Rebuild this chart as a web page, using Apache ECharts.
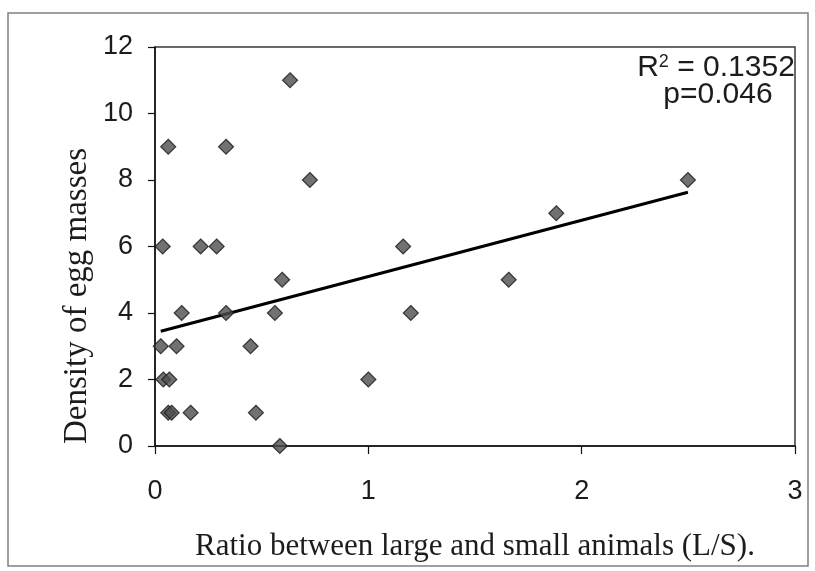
<!DOCTYPE html>
<html>
<head>
<meta charset="utf-8">
<title>Density of egg masses vs L/S ratio</title>
<script src="https://cdn.jsdelivr.net/npm/echarts@6/dist/echarts.min.js"></script>
<style>
  html, body { margin: 0; padding: 0; background: #ffffff; }
  #chart { width: 815px; height: 571px; }
</style>
</head>
<body>
<div id="chart"></div>
<script>
// Ratio of large to small animals (L/S) for each sampling site
const ratioLS = [
  0.633, 0.062, 0.333, 0.726, 2.498, 1.881,
  0.036, 0.214, 0.289, 1.163, 0.596, 1.658,
  0.125, 0.333, 0.562, 1.199, 0.027, 0.101,
  0.448, 0.039, 0.067, 1.000, 0.062, 0.078,
  0.167, 0.473, 0.585
];
// Density of egg masses at the same sites
const eggDensity = [
  11, 9, 9, 8, 8, 7,
  6, 6, 6, 6, 5, 5,
  4, 4, 4, 4, 3, 3,
  3, 2, 2, 2, 1, 1,
  1, 1, 0
];
// Linear trend line end points [x, y]
const trendX = [0.027, 2.498];
const trendY = [3.45, 7.63];

const xTicks = [0, 1, 2, 3];
const yTicks = [0, 2, 4, 6, 8, 10, 12];
const fitText = { r2: '0.1352', p: '0.046' };

const points = ratioLS.map((x, i) => [x, eggDensity[i]]);
const trend = trendX.map((x, i) => [x, trendY[i]]);

const chart = echarts.init(document.getElementById('chart'), null, { renderer: 'canvas' });

const sans = 'Liberation Sans, Arial, sans-serif';
const serif = 'Liberation Serif, Times New Roman, serif';
const ink = '#1c1c1c';
const tickFont = { fontFamily: sans, fontSize: 27, color: ink };

chart.setOption({
  animation: false,
  backgroundColor: '#ffffff',
  grid: {
    left: 155, right: 20, top: 47, bottom: 125,
    show: true, borderColor: '#3a3a3a', borderWidth: 1.5, backgroundColor: 'transparent'
  },
  xAxis: {
    type: 'value',
    min: xTicks[0], max: xTicks[xTicks.length - 1], interval: 1,
    name: 'Ratio between large and small animals (L/S).',
    nameLocation: 'middle', nameGap: 85,
    nameTextStyle: { fontFamily: serif, fontSize: 31, color: ink },
    axisLine: { onZero: false, lineStyle: { color: '#111', width: 1.5 } },
    axisTick: { show: true, inside: false, length: 8, lineStyle: { color: '#111', width: 1.2 } },
    axisLabel: Object.assign({ margin: 32 }, tickFont),
    splitLine: { show: false }
  },
  yAxis: {
    type: 'value',
    min: yTicks[0], max: yTicks[yTicks.length - 1], interval: 2,
    axisLine: { onZero: false, lineStyle: { color: '#111', width: 1.5 } },
    axisTick: { show: true, inside: false, length: 7, lineStyle: { color: '#111', width: 1.2 } },
    axisLabel: Object.assign({ margin: 22 }, tickFont),
    splitLine: { show: false }
  },
  graphic: [
    {
      // y axis title, reading bottom to top
      type: 'text', x: 77, y: 296, rotation: Math.PI / 2,
      style: {
        text: 'Density of egg masses',
        align: 'center', verticalAlign: 'middle',
        fontFamily: serif, fontSize: 33, fill: ink
      }
    },
    {
      type: 'text', x: 716, y: 68,
      style: {
        text: '{m|R}{s|2}{m| = ' + fitText.r2 + '}',
        align: 'center', verticalAlign: 'middle',
        rich: {
          m: { fontFamily: sans, fontSize: 30, lineHeight: 30, fill: ink, verticalAlign: 'middle' },
          s: { fontFamily: sans, fontSize: 18, lineHeight: 18, fill: ink, verticalAlign: 'top' }
        }
      }
    },
    {
      type: 'text', x: 718, y: 95,
      style: {
        text: 'p=' + fitText.p,
        align: 'center', verticalAlign: 'middle',
        fontFamily: sans, fontSize: 30, fill: ink
      }
    },
    {
      // outer chart frame
      type: 'rect', shape: { x: 8, y: 13, width: 800, height: 553 },
      style: { fill: 'none', stroke: '#808080', lineWidth: 1.5 }, z: -1
    }
  ],
  series: [
    {
      type: 'line',
      data: trend,
      symbol: 'none',
      lineStyle: { color: '#000', width: 3 },
      z: 3
    },
    {
      type: 'scatter',
      data: points,
      symbol: 'diamond',
      symbolSize: 15,
      itemStyle: { color: '#4d4d4d', borderColor: '#1a1a1a', borderWidth: 1.2 },
      z: 4
    }
  ]
});
</script>
</body>
</html>
